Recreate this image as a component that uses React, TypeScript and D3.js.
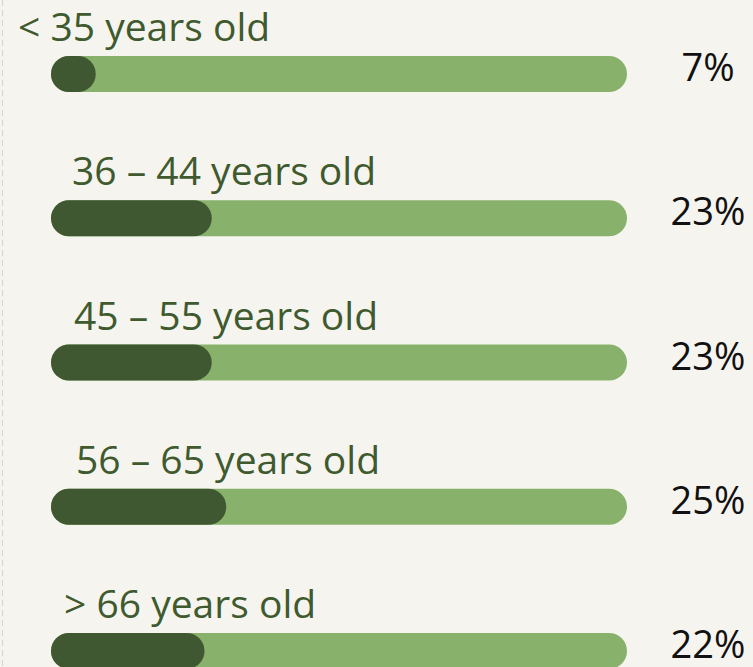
import React, { useEffect, useRef } from 'react'
import * as d3 from 'd3'

const categories = ['< 35 years old', '36 – 44 years old', '45 – 55 years old', '56 – 65 years old', '> 66 years old']
const shares = [7, 23, 23, 25, 22]
const valueLabels = ['7%', '23%', '23%', '25%', '22%']

// hand-placed label indents, as in the original layout
const labelIndent = [18, 72, 74, 76, 64]

const width = 753
const height = 667

export default function App() {
  const svgRef = useRef<SVGSVGElement>(null)

  useEffect(() => {
    if (!svgRef.current) return
    const svg = d3.select(svgRef.current)
    svg.selectAll('*').remove()

    svg.append('rect').attr('width', width).attr('height', height).attr('fill', '#f6f4ef')

    // dashed rule on the left edge
    svg.append('line')
      .attr('x1', 2.5).attr('x2', 2.5)
      .attr('y1', 0).attr('y2', height)
      .attr('stroke', '#d6d4cf')
      .attr('stroke-width', 1)
      .attr('stroke-dasharray', '6,4')

    const barH = 36
    const trackX = 51
    const trackW = 576

    const y = d3.scalePoint<string>()
      .domain(categories)
      .range([56, 633])

    const x = d3.scaleLinear()
      .domain([0, 80])
      .range([0, 580])

    const rows = svg.selectAll('g.row')
      .data(categories)
      .join('g')
      .attr('class', 'row')
      .attr('transform', d => `translate(0,${y(d)})`)

    rows.append('rect')
      .attr('x', trackX)
      .attr('width', trackW)
      .attr('height', barH)
      .attr('rx', barH / 2)
      .attr('fill', '#88b16b')

    rows.append('rect')
      .attr('x', trackX)
      .attr('width', (_, i) => Math.max(x(shares[i]) - 6, barH + 4))
      .attr('height', barH)
      .attr('rx', barH / 2)
      .attr('fill', '#3f5832')

    rows.append('text')
      .attr('x', (_, i) => labelIndent[i])
      .attr('y', -15)
      .attr('fill', '#3e5a2e')
      .attr('font-family', '"Open Sans", "Noto Sans", sans-serif')
      .attr('font-size', 39)
      .text(d => d)

    rows.append('text')
      .attr('x', 708)
      .attr('y', barH / 2 + 7)
      .attr('text-anchor', 'middle')
      .attr('fill', '#111')
      .attr('font-family', '"Open Sans", "Noto Sans", sans-serif')
      .attr('font-size', 38)
      .text((_, i) => valueLabels[i])
  }, [])

  return (
    <svg
      ref={svgRef}
      width={width}
      height={height}
      style={{ position: 'absolute', left: 0, top: 0, display: 'block' }}
    />
  )
}
